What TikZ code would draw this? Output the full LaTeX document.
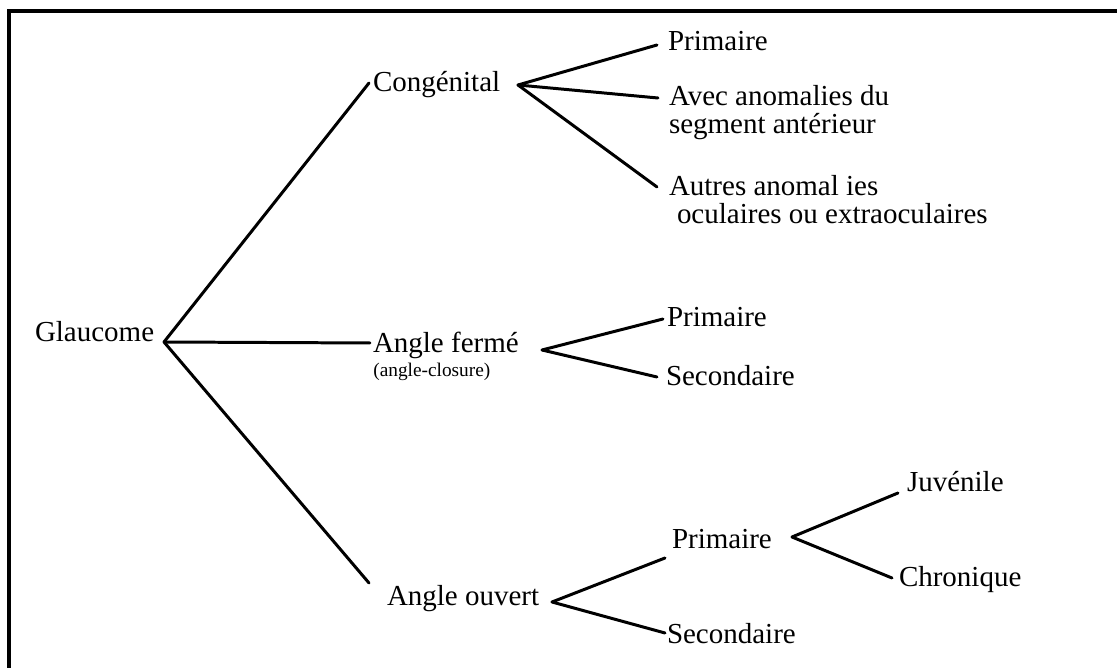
\documentclass[tikz,border=0pt]{standalone}
\usepackage{fontspec}
\setmainfont{Liberation Serif}
\usetikzlibrary{positioning}

\tikzset{
	lbl/.style={anchor=west, inner sep=0pt, outer sep=0pt, text height=1.5ex, text depth=.25ex, font=\fontsize{16.5}{19}\selectfont},
	smalllbl/.style={anchor=base west, inner sep=0pt, font=\fontsize{11}{13}\selectfont},
	branch/.style={line width=1.7pt, line cap=round},
	frame/.style={line width=2pt}
}

\begin{document}
\begin{tikzpicture}[x=0.02cm, y=-0.02cm]
			\useasboundingbox (0, 0) rectangle (1117, 668);
			% Frame:
			\draw[frame] (9, 668) -- (9, 11) -- (1117, 11);
			% Labels:
			\node[lbl](glau) at (35, 336){Glaucome};
			\node[lbl](cong) at (373, 86){Congénital};
			\node[lbl](prim1) at (668, 45){Primaire};
			\node[lbl](avec1) at (669, 100){Avec anomalies du};
			\node[lbl](avec2) at (669, 128){segment antérieur};
			\node[lbl](autres1) at (669, 190){Autres anomal ies};
			\node[lbl](autres2) at (677, 218){oculaires ou extraoculaires};
			\node[lbl](ferme) at (373, 347){Angle fermé};
			\node[smalllbl](closure) at (373, 377){(angle-closure)};
			\node[lbl](prim2) at (667, 321){Primaire};
			\node[lbl](sec2) at (666, 380){Secondaire};
			\node[lbl](ouvert) at (387, 600){Angle ouvert};
			\node[lbl](prim3) at (672, 543){Primaire};
			\node[lbl](sec3) at (667, 638){Secondaire};
			\node[lbl](juv) at (907, 486){Juvénile};
			\node[lbl](chron) at (899, 581){Chronique};
			% Branch points:
			\coordinate (j0) at (164, 342);
			\coordinate (j1) at (518, 85);
			\coordinate (j2) at (542, 350);
			\coordinate (j3) at (552, 602);
			\coordinate (j4) at (792, 537);
			% Branches:
			\draw[branch] (j0) -- ([shift={(-4,-3)}]cong.west);
			\draw[branch] (j0) -- ([shift={(-3,-4)}]ferme.west);
			\draw[branch] (j0) -- ([shift={(-18,-17)}]ouvert.west);
			\draw[branch] (j1) -- ([shift={(-11,0)}]prim1.west);
			\draw[branch] (j1) -- ([shift={(-11,-2)}]avec1.west);
			\draw[branch] (j1) -- ([shift={(-12,-3)}]autres1.west);
			\draw[branch] (j2) -- ([shift={(-4,-2)}]prim2.west);
			\draw[branch] (j2) -- ([shift={(-9,-3)}]sec2.west);
			\draw[branch] (j3) -- ([shift={(-7,15)}]prim3.west);
			\draw[branch] (j3) -- ([shift={(-2,-5)}]sec3.west);
			\draw[branch] (j4) -- ([shift={(-9,7)}]juv.west);
			\draw[branch] (j4) -- ([shift={(-7,-3)}]chron.west);
		\end{tikzpicture}
\end{document}
